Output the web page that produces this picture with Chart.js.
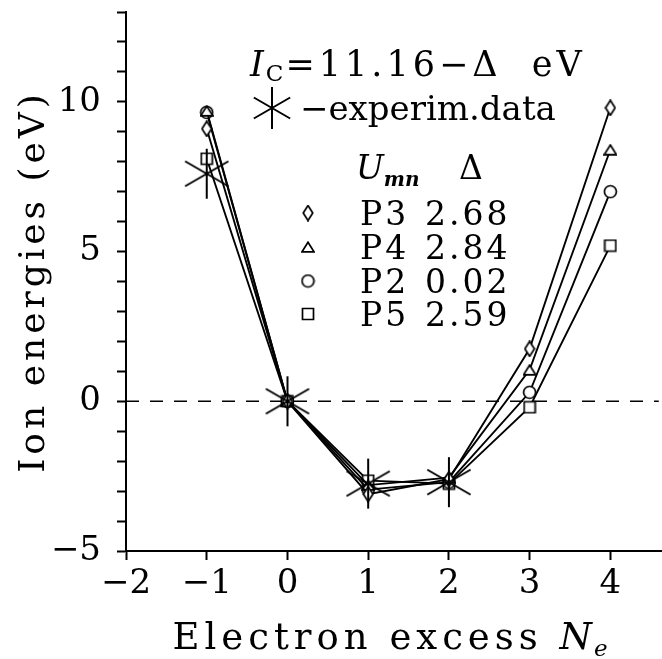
<!DOCTYPE html>
<html><head><meta charset="utf-8">
<script src="https://cdn.jsdelivr.net/npm/chart.js@4/dist/chart.umd.min.js"></script>
<style>html,body{margin:0;padding:0;background:#fff}#wrap{width:662px;height:659px}</style>
</head><body><div id="wrap"><canvas id="c" width="662" height="659"></canvas></div>
<script>
// ---- data ----
const electronExcess = [-1, 0, 1, 2, 3, 4];
const P3 = [9.1, 0, -3.1, -2.6, 1.75, 9.8];
const P4 = [9.7, 0, -2.8, -2.55, 1.05, 8.4];
const P2 = [9.65, 0, -2.95, -2.7, 0.3, 7.0];
const P5 = [8.1, 0, -2.65, -2.75, -0.2, 5.2];
const expX = [-1, 0, 1, 2];
const expY = [7.6, 0, -2.75, -2.7];
const refLineX = [-2, 4.6];
const refLineY = [0, 0];
const seriesNames = ['P3', 'P4', 'P2', 'P5'];
const deltas = ['2.68', '2.84', '0.02', '2.59'];
const xTickValues = [-2, -1, 0, 1, 2, 3, 4];
const yLabelValues = [-5, 0, 5, 10];

const SERIF = '"DejaVu Serif", serif';

function mk(w, h, fn) {
  const c = document.createElement('canvas');
  c.width = w; c.height = h;
  const g = c.getContext('2d');
  g.strokeStyle = '#000'; g.fillStyle = '#fff'; g.lineWidth = 1.7;
  fn(g, w, h);
  return c;
}
const mDiamond = mk(12, 17, (g, w, h) => { g.beginPath(); g.moveTo(w/2, 1); g.lineTo(w-1.2, h/2); g.lineTo(w/2, h-1); g.lineTo(1.2, h/2); g.closePath(); g.fill(); g.stroke(); });
const mTriangle = mk(14, 12, (g, w, h) => { g.beginPath(); g.moveTo(w/2, 1.2); g.lineTo(w-1, h-1.2); g.lineTo(1, h-1.2); g.closePath(); g.fill(); g.stroke(); });
const mCircle = mk(15, 15, (g, w, h) => { g.beginPath(); g.arc(w/2, h/2, 6, 0, Math.PI*2); g.fill(); g.stroke(); });
const mSquare = mk(14, 14, (g, w, h) => { g.beginPath(); g.rect(1.5, 1.5, w-3, h-3); g.fill(); g.stroke(); });
function starCanvas(r) {
  return mk(2*r+4, 2*r+4, (g, w, h) => {
    g.lineWidth = 2;
    const cx = w/2, cy = h/2;
    g.beginPath();
    for (const a of [90, 30, -30]) {
      const t = a * Math.PI / 180;
      g.moveTo(cx - r*Math.cos(t), cy - r*Math.sin(t));
      g.lineTo(cx + r*Math.cos(t), cy + r*Math.sin(t));
    }
    g.stroke();
  });
}
const mStar = starCanvas(25);
const mStarLegend = starCanvas(21);
const markers = [mDiamond, mTriangle, mCircle, mSquare];

function pts(xs, ys) { return xs.map((x, i) => ({x, y: ys[i]})); }

const seriesData = [P3, P4, P2, P5];
const datasets = [];
datasets.push({
  data: pts(expX, expY), showLine: false, pointStyle: mStar, pointRadius: 25, order: 1
});
seriesData.forEach((s, i) => {
  datasets.push({
    data: pts(electronExcess, s), showLine: true, borderColor: '#000', borderWidth: 1.9,
    pointStyle: markers[i], pointRadius: 6, order: 5, tension: 0
  });
});
datasets.push({
  data: pts(refLineX, refLineY), showLine: true, borderColor: '#000', borderWidth: 1.5,
  borderDash: [13, 11], pointRadius: 0, order: 10
});

function fmt(v) { return v < 0 ? '\u2212' + Math.abs(v) : String(v); }

const textPlugin = {
  id: 'texts',
  afterDraw(chart) {
    const ctx = chart.ctx;
    const ca = chart.chartArea;
    ctx.save();
    ctx.fillStyle = '#000';
    ctx.textBaseline = 'alphabetic';
    ctx.textAlign = 'left';
    // x title
    const fs = 37;
    ctx.letterSpacing = '5px';
    const p1 = 'Electron excess ';
    ctx.font = fs + 'px ' + SERIF;
    const w1 = ctx.measureText(p1).width;
    ctx.font = 'italic ' + fs + 'px ' + SERIF;
    const w2 = ctx.measureText('N').width;
    ctx.font = 'italic ' + Math.round(fs*0.62) + 'px ' + SERIF;
    const w3 = ctx.measureText('e').width;
    let x0 = (ca.left + ca.right)/2 - (w1 + w2 + w3)/2;
    const by = 649;
    ctx.font = fs + 'px ' + SERIF; ctx.fillText(p1, x0, by);
    ctx.font = 'italic ' + fs + 'px ' + SERIF; ctx.fillText('N', x0 + w1, by);
    ctx.font = 'italic ' + Math.round(fs*0.62) + 'px ' + SERIF; ctx.fillText('e', x0 + w1 + w2 - 3, by + 7);
    // y title
    ctx.letterSpacing = '4px';
    ctx.save();
    ctx.translate(44, (ca.top + ca.bottom)/2);
    ctx.rotate(-Math.PI/2);
    ctx.font = 36 + 'px ' + SERIF;
    ctx.textAlign = 'center';
    ctx.fillText('Ion energies (eV)', 0, 0);
    ctx.restore();

    // annotation line 1
    const af = 35;
    ctx.letterSpacing = '4px';
    let x = 250; const b1 = 76;
    ctx.font = 'italic ' + af + 'px ' + SERIF; ctx.fillText('I', x, b1); x += ctx.measureText('I').width - 2;
    ctx.font = Math.round(af*0.65) + 'px ' + SERIF; ctx.fillText('C', x, b1 + 5); x += ctx.measureText('C').width - 2;
    ctx.font = af + 'px ' + SERIF; ctx.fillText('=11.16\u2212\u0394  eV', x, b1);
    // annotation line 2
    ctx.letterSpacing = '0px';
    ctx.drawImage(mStarLegend, 272 - mStarLegend.width/2, 108 - mStarLegend.height/2);
    ctx.font = 34 + 'px ' + SERIF; ctx.fillText('\u2212experim.data', 300, 120);
    // legend header
    const lf = 33;
    ctx.font = 'italic ' + lf + 'px ' + SERIF; ctx.fillText('U', 356, 179);
    let ux = 356 + ctx.measureText('U').width;
    ctx.font = 'italic bold ' + Math.round(lf*0.6) + 'px ' + SERIF; ctx.fillText('mn', ux, 186);
    ctx.font = lf + 'px ' + SERIF; ctx.textAlign = 'center'; ctx.fillText('\u0394', 471, 179);
    ctx.textAlign = 'left';
    const rowY = [213, 247, 281, 314];
    ctx.letterSpacing = '3px';
    seriesNames.forEach((n, i) => {
      const m = markers[i];
      ctx.drawImage(m, 308 - m.width/2, rowY[i] - m.height/2);
      ctx.font = lf + 'px ' + SERIF;
      ctx.fillText(n, 360, rowY[i] + 12);
      ctx.fillText(deltas[i], 425, rowY[i] + 12);
    });
    ctx.restore();
  }
};

new Chart(document.getElementById('c'), {
  type: 'line',
  data: { datasets },
  plugins: [textPlugin],
  options: {
    responsive: false, animation: false, events: [],
    layout: { autoPadding: false, padding: { top: 12, right: 0, left: 0, bottom: 0 } },
    plugins: { legend: { display: false }, tooltip: { enabled: false } },
    scales: {
      x: {
        type: 'linear', min: -2, max: 4.64,
        afterBuildTicks: s => { s.ticks = xTickValues.map(v => ({value: v})); },
        afterFit: s => { s.height = 108; s.paddingLeft = 0; s.paddingRight = 0; },
        border: { display: true, color: '#000', width: 2 },
        grid: { drawOnChartArea: false, drawTicks: true, tickLength: 9, tickColor: '#000', tickWidth: 2 },
        ticks: { color: '#000', font: { family: SERIF, size: 34 }, padding: 4, maxRotation: 0, autoSkip: false,
                 callback: v => fmt(v) }
      },
      y: {
        type: 'linear', min: -5, max: 13,
        afterBuildTicks: s => { const t = []; for (let v = -5; v <= 13; v++) t.push({value: v}); s.ticks = t; },
        afterFit: s => { s.width = 126; s.paddingTop = 0; s.paddingBottom = 0; },
        border: { display: true, color: '#000', width: 2 },
        grid: { drawOnChartArea: false, drawTicks: true, tickLength: 9, tickColor: '#000', tickWidth: 2 },
        ticks: { color: '#000', font: { family: SERIF, size: 34 }, padding: 16, autoSkip: false,
                 callback: v => yLabelValues.includes(v) ? fmt(v) : '' }
      }
    }
  }
});
</script></body></html>
